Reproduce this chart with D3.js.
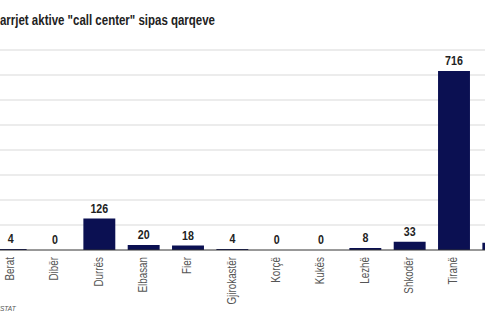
<!DOCTYPE html>
<html><head><meta charset="utf-8">
<script src="https://cdn.jsdelivr.net/npm/d3@7"></script>
<style>
html,body{margin:0;padding:0;background:#fff;overflow:hidden}
svg{display:block}
</style></head>
<body>
<script>
const categories = ["Berat","Dibër","Durrës","Elbasan","Fier","Gjirokastër","Korçë","Kukës","Lezhë","Shkodër","Tiranë","Vlorë"];
const values = [4,0,126,20,18,4,0,0,8,33,716,29];
const yTicks = [100,200,300,400,500,600,700,800];
const titleText = "Ndërmarrjet aktive \"call center\" sipas qarqeve";
const titleHidden = "Ndërm";
const sourceText = "Burimi: INSTAT";
const sourceHidden = "Burimi: IN";

const W = 485, H = 325;
const FONT = "'Liberation Sans',Arial,sans-serif";
const NARROW = 0.82;
const svg = d3.select("body").append("svg").attr("width", W).attr("height", H);

const x = d3.scaleBand().domain(categories).range([-11.5, 520.5]).paddingInner(0.28).paddingOuter(0.14);
const y = d3.scaleLinear().domain([0, 800]).range([250, 50]);

// gridlines
svg.append("g").selectAll("line").data(yTicks).join("line")
  .attr("x1", 0).attr("x2", W)
  .attr("y1", d => y(d)).attr("y2", d => y(d))
  .attr("stroke", "#e6e6e6").attr("stroke-width", 1.5);

// bars
svg.append("g").selectAll("rect").data(values).join("rect")
  .attr("x", (d, i) => x(categories[i]))
  .attr("width", x.bandwidth())
  .attr("y", d => y(d))
  .attr("height", d => y(0) - y(d))
  .attr("fill", "#0b1052");

// baseline
svg.append("line").attr("x1", 0).attr("x2", W).attr("y1", y(0)).attr("y2", y(0))
  .attr("stroke", "#333").attr("stroke-width", 1);

// value labels
svg.append("g").selectAll("text").data(values).join("text")
  .attr("transform", (d, i) => `translate(${x(categories[i]) + x.bandwidth() / 2},${y(d) - 6}) scale(${NARROW},1)`)
  .attr("text-anchor", "middle")
  .attr("font-family", FONT).attr("font-weight", "bold").attr("font-size", 13)
  .attr("fill", "#222")
  .text(d => d);

// category labels
svg.append("g").selectAll("text").data(categories).join("text")
  .attr("transform", d => `translate(${x(d) + x.bandwidth() / 2},257) rotate(-90) scale(${NARROW},1)`)
  .attr("dy", "0.28em")
  .attr("text-anchor", "end")
  .attr("font-family", FONT).attr("font-size", 12)
  .attr("fill", "#555")
  .text(d => d);

// title (left part cropped)
const tmp = svg.append("text").attr("font-family", FONT).attr("font-weight", "bold").attr("font-size", 14).text(titleHidden);
const hw = tmp.node().getComputedTextLength(); tmp.remove();
svg.append("text").attr("transform", `translate(0,25) scale(${NARROW},1)`).attr("x", -hw)
  .attr("font-family", FONT).attr("font-weight", "bold").attr("font-size", 14)
  .attr("fill", "#222").text(titleText);

// source
const tmp2 = svg.append("text").attr("font-family", FONT).attr("font-style", "italic").attr("font-size", 8).text(sourceHidden);
const sw = tmp2.node().getComputedTextLength(); tmp2.remove();
svg.append("text").attr("transform", `translate(0,311) scale(${NARROW},1)`).attr("x", -sw)
  .attr("font-family", FONT).attr("font-style", "italic").attr("font-size", 8)
  .attr("fill", "#555").text(sourceText);
</script>
</body></html>
